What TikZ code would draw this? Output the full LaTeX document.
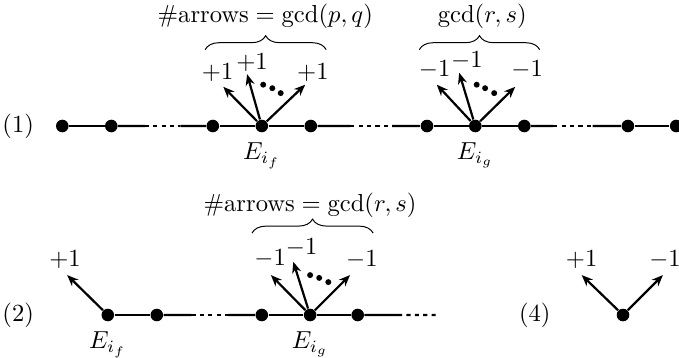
\documentclass[tikz,border=0pt]{standalone}
\usepackage{amsmath}
\usetikzlibrary{arrows.meta,calc,decorations.pathreplacing}

\begin{document}
\begin{tikzpicture}[
  vtx/.style={circle, fill, inner sep=0pt, minimum size=0.18cm},
  sdot/.style={circle, fill, inner sep=0pt, minimum size=0.085cm},
  edge/.style={line width=0.9pt},
  gap/.style={line width=0.9pt, dash pattern=on 1.7pt off 1.7pt},
  arr/.style={-{Stealth[length=1.6mm, width=1.3mm]}, line width=0.9pt},
  brc/.style={decorate, decoration={brace, amplitude=0.2cm}, line width=0.4pt},
  ename/.style={label={[label distance=0.02cm]below:#1}}
]
  \useasboundingbox (0,0) rectangle (9.7,5.1);

  % row (1)
  \node (n1) at (0.26,3.30) {(1)};
  \node[vtx] (a1) at (0.89,3.30) {};
  \node[vtx] (a2) at (1.59,3.30) {};
  \node[vtx] (a3) at (3.04,3.30) {};
  \node[vtx, ename=$E_{i_f}$] (f1) at (3.74,3.30) {};
  \node[vtx] (a5) at (4.44,3.30) {};
  \node[vtx] (a6) at (6.10,3.30) {};
  \node[vtx, ename=$E_{i_g}$] (g1) at (6.79,3.30) {};
  \node[vtx] (a8) at (7.49,3.30) {};
  \node[vtx] (a9) at (8.97,3.30) {};
  \node[vtx] (a10) at (9.66,3.30) {};
  \draw[edge] (a1) -- (a2);
  \draw[edge] (a2) -- ($(a2)!0.33!(a3)$);
  \draw[gap] ($(a2)!0.33!(a3)$) -- ($(a2)!0.68!(a3)$);
  \draw[edge] ($(a2)!0.68!(a3)$) -- (a3);
  \draw[edge] (a3) -- (f1);
  \draw[edge] (f1) -- (a5);
  \draw[edge] (a5) -- ($(a5)!0.34!(a6)$);
  \draw[gap] ($(a5)!0.34!(a6)$) -- ($(a5)!0.70!(a6)$);
  \draw[edge] ($(a5)!0.70!(a6)$) -- (a6);
  \draw[edge] (a6) -- (g1);
  \draw[edge] (g1) -- (a8);
  \draw[edge] (a8) -- ($(a8)!0.28!(a9)$);
  \draw[gap] ($(a8)!0.28!(a9)$) -- ($(a8)!0.66!(a9)$);
  \draw[edge] ($(a8)!0.66!(a9)$) -- (a9);
  \draw[edge] (a9) -- (a10);

  % arrows at E_{i_f}
  \coordinate (f1t1) at (3.19,3.86);
  \coordinate (f1t2) at (3.53,4.04);
  \coordinate (f1t3) at (4.36,3.89);
  \draw[arr] (f1) -- (f1t1);
  \draw[arr] (f1) -- (f1t2);
  \draw[arr] (f1) -- (f1t3);
  \node (f1l1) at (3.11,4.07) {$+1$};
  \node (f1l2) at (3.60,4.21) {$+1$};
  \node (f1l3) at (4.47,4.07) {$+1$};
  \node[sdot] (f1d1) at (3.76,3.89) {};
  \node[sdot] (f1d2) at (3.89,3.84) {};
  \node[sdot] (f1d3) at (4.01,3.77) {};
  \coordinate (f1b1) at (2.93,4.39);
  \coordinate (f1b2) at (4.66,4.39);
  \draw[brc] (f1b1) -- (f1b2);
  \node (f1n) at (3.79,4.86) {$\#\text{arrows}=\gcd(p,q)$};

  % arrows at E_{i_g}
  \coordinate (g1t1) at (6.24,3.89);
  \coordinate (g1t2) at (6.56,4.06);
  \coordinate (g1t3) at (7.36,3.86);
  \draw[arr] (g1) -- (g1t1);
  \draw[arr] (g1) -- (g1t2);
  \draw[arr] (g1) -- (g1t3);
  \node (g1l1) at (6.21,4.10) {$-1$};
  \node (g1l2) at (6.67,4.24) {$-1$};
  \node (g1l3) at (7.53,4.10) {$-1$};
  \node[sdot] (g1d1) at (6.81,3.89) {};
  \node[sdot] (g1d2) at (6.93,3.84) {};
  \node[sdot] (g1d3) at (7.06,3.77) {};
  \coordinate (g1b1) at (5.99,4.39);
  \coordinate (g1b2) at (7.71,4.39);
  \draw[brc] (g1b1) -- (g1b2);
  \node (g1n) at (6.89,4.86) {$\gcd(r,s)$};

  % row (2)
  \node (n2) at (0.26,0.60) {(2)};
  \node[vtx, ename=$E_{i_f}$] (f2) at (1.54,0.60) {};
  \node[vtx] (b2) at (2.24,0.60) {};
  \node[vtx] (b3) at (3.74,0.60) {};
  \node[vtx, ename=$E_{i_g}$] (g2) at (4.43,0.60) {};
  \node[vtx] (b5) at (5.11,0.60) {};
  \coordinate (b6) at (6.24,0.60);
  \draw[edge] (f2) -- (b2);
  \draw[edge] (b2) -- ($(b2)!0.33!(b3)$);
  \draw[gap] ($(b2)!0.33!(b3)$) -- ($(b2)!0.68!(b3)$);
  \draw[edge] ($(b2)!0.68!(b3)$) -- (b3);
  \draw[edge] (b3) -- (g2);
  \draw[edge] (g2) -- (b5);
  \draw[edge] (b5) -- ($(b5)!0.51!(b6)$);
  \draw[gap] ($(b5)!0.51!(b6)$) -- (b6);

  \coordinate (f2t1) at (0.96,1.17);
  \draw[arr] (f2) -- (f2t1);
  \node (f2l1) at (0.93,1.39) {$+1$};

  \coordinate (g2t1) at (3.87,1.17);
  \coordinate (g2t2) at (4.19,1.36);
  \coordinate (g2t3) at (5.00,1.17);
  \draw[arr] (g2) -- (g2t1);
  \draw[arr] (g2) -- (g2t2);
  \draw[arr] (g2) -- (g2t3);
  \node (g2l1) at (3.86,1.41) {$-1$};
  \node (g2l2) at (4.31,1.56) {$-1$};
  \node (g2l3) at (5.17,1.39) {$-1$};
  \node[sdot] (g2d1) at (4.43,1.17) {};
  \node[sdot] (g2d2) at (4.56,1.13) {};
  \node[sdot] (g2d3) at (4.69,1.07) {};
  \coordinate (g2b1) at (3.60,1.77);
  \coordinate (g2b2) at (5.33,1.77);
  \draw[brc] (g2b1) -- (g2b2);
  \node (g2n) at (4.43,2.17) {$\#\text{arrows}=\gcd(r,s)$};

  % row (4)
  \node (n4) at (7.64,0.60) {(4)};
  \node[vtx] (h4) at (8.90,0.60) {};
  \coordinate (h4t1) at (8.31,1.17);
  \coordinate (h4t2) at (9.47,1.17);
  \draw[arr] (h4) -- (h4t1);
  \draw[arr] (h4) -- (h4t2);
  \node (h4l1) at (8.31,1.39) {$+1$};
  \node (h4l2) at (9.50,1.39) {$-1$};
\end{tikzpicture}
\end{document}
